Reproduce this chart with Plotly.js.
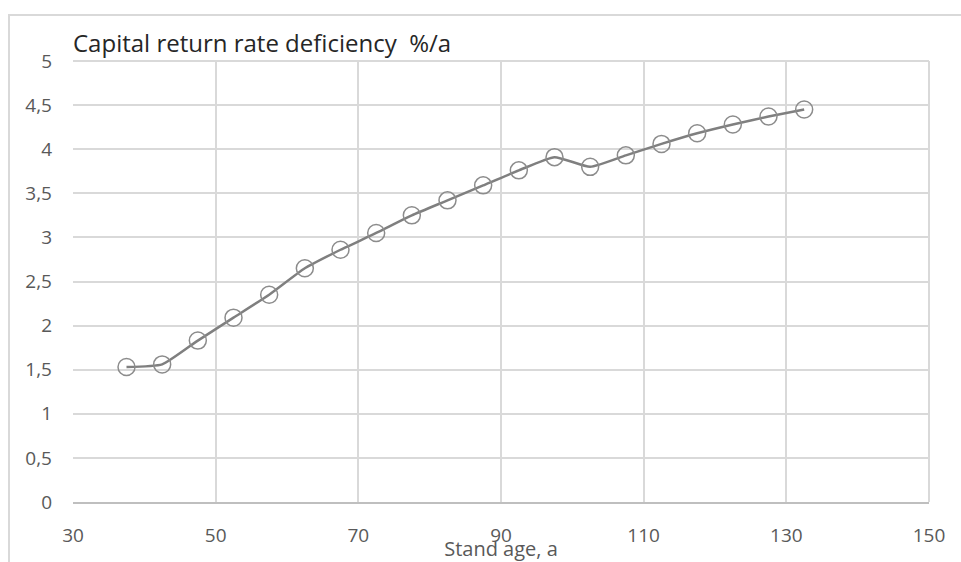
<!DOCTYPE html>
<html>
<head>
<meta charset="utf-8">
<script src="https://cdn.plot.ly/plotly-3.0.1.min.js"></script>
<style>
html,body{margin:0;padding:0;background:#fff;overflow:hidden;}
#frame{position:absolute;left:8px;top:14px;width:1000px;height:600px;border:2px solid #d9d9d9;box-sizing:border-box;}
#chart{position:absolute;left:0;top:0;width:961px;height:562px;}
</style>
</head>
<body>
<div id="frame"></div>
<div id="chart"></div>
<script>
const standAge = [37.5, 42.5, 47.5, 52.5, 57.5, 62.5, 67.5, 72.5, 77.5, 82.5, 87.5, 92.5, 97.5, 102.5, 107.5, 112.5, 117.5, 122.5, 127.5, 132.5];
const deficiency = [1.53, 1.56, 1.83, 2.09, 2.35, 2.65, 2.86, 3.05, 3.25, 3.42, 3.59, 3.76, 3.91, 3.80, 3.93, 4.06, 4.18, 4.28, 4.37, 4.45];
const chartTitle = 'Capital return rate deficiency  %/a';
const xTitle = 'Stand age, a';

const fontFam = '"Open Sans", "Noto Sans", sans-serif';

Plotly.newPlot('chart', [{
  x: standAge,
  y: deficiency,
  type: 'scatter',
  mode: 'lines+markers',
  line: {color: '#7f7f7f', width: 2.5, shape: 'spline', smoothing: 0.5},
  marker: {symbol: 'circle', size: 17, color: 'rgba(0,0,0,0)', line: {color: '#8c8c8c', width: 1.5}},
  hoverinfo: 'skip'
}], {
  width: 961, height: 562,
  paper_bgcolor: 'rgba(0,0,0,0)',
  plot_bgcolor: 'rgba(0,0,0,0)',
  separators: ', ',
  margin: {l: 73, r: 32, t: 61, b: 60},
  showlegend: false,
  title: {text: chartTitle, x: 73/961, xanchor: 'left', xref: 'container', y: 1 - 44/562, yanchor: 'middle',
          font: {family: fontFam, size: 24, color: '#262626'}},
  xaxis: {
    range: [30, 150], dtick: 20, tick0: 30,
    showgrid: true, gridcolor: '#d9d9d9', gridwidth: 2,
    showline: true, linecolor: '#bfbfbf', linewidth: 2, mirror: false,
    zeroline: false, ticks: '', ticklabelstandoff: 15,
    tickfont: {family: fontFam, size: 19, color: '#595959'},
    title: {text: xTitle, standoff: 0, font: {family: fontFam, size: 20, color: '#595959'}}
  },
  yaxis: {
    range: [0, 5], dtick: 0.5, tick0: 0,
    showgrid: true, gridcolor: '#d9d9d9', gridwidth: 2,
    showline: false, zeroline: false, ticks: '', ticklabelstandoff: 20,
    tickfont: {family: fontFam, size: 19, color: '#595959'},
    tickformat: '.1~f'
  },
  shapes: [
    {type: 'line', xref: 'paper', yref: 'paper', x0: 1, x1: 1, y0: 0, y1: 1, line: {color: '#d9d9d9', width: 2}},
    {type: 'line', xref: 'paper', yref: 'paper', x0: 0, x1: 1, y0: 1, y1: 1, line: {color: '#d9d9d9', width: 2}}
  ]
}, {staticPlot: true});
</script>
</body>
</html>
